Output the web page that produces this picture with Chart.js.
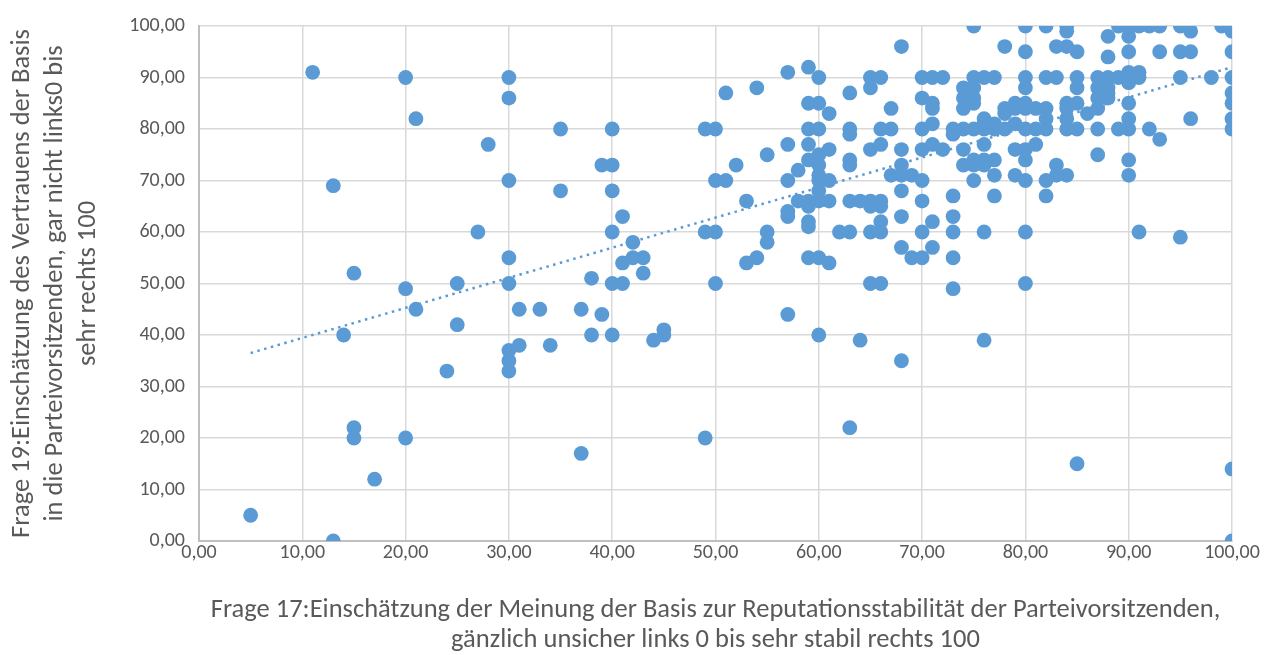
<!DOCTYPE html>
<html>
<head>
<meta charset="utf-8">
<script src="https://cdn.jsdelivr.net/npm/chart.js@4.4.1/dist/chart.umd.min.js"></script>
<style>
html, body { margin: 0; padding: 0; background: #ffffff; }
#wrap { width: 1283px; height: 655px; }
</style>
</head>
<body>
<div id="wrap"><canvas id="chart" width="1283" height="655"></canvas></div>
<script>
// Frage 17 (x) values
const frage17 = [
  5,11,13,13,14,15,15,15,17,20,20,20,21,21,24,25,25,27,28,
  30,30,30,30,30,30,30,30,31,31,33,34,35,35,37,37,38,38,39,39,
  40,40,40,40,40,40,41,41,41,42,42,43,43,44,45,45,49,49,49,
  50,50,50,50,51,51,52,53,53,54,54,55,55,55,57,57,57,57,57,57,
  58,58,59,59,59,59,59,59,59,59,59,59,
  60,60,60,60,60,60,60,60,60,60,60,
  61,61,61,61,61,62,63,63,63,63,63,63,63,63,64,64,
  65,65,65,65,65,65,65,66,66,66,66,66,66,66,66,
  67,67,67,68,68,68,68,68,68,68,68,69,69,
  70,70,70,70,70,70,70,70,
  71,71,71,71,71,71,71,72,72,
  73,73,73,73,73,73,73,74,74,74,74,74,74,
  75,75,75,75,75,75,75,75,75,
  76,76,76,76,76,76,76,76,76,
  77,77,77,77,77,77,78,78,78,78,79,79,79,79,79,
  80,80,80,80,80,80,80,80,80,80,80,80,
  81,81,81,82,82,82,82,82,82,82,83,83,83,83,
  84,84,84,84,84,84,84,84,85,85,85,85,85,85,86,
  87,87,87,87,87,87,88,88,88,88,88,88,89,89,89,
  90,90,90,90,90,90,90,90,90,90,91,91,91,91,92,92,93,93,93,
  95,95,95,95,96,96,96,98,99,100,100,100,100,100,100,100,100,100,100
];
// Frage 19 (y) values
const frage19 = [
  5,91,69,0,40,52,22,20,12,90,49,20,82,45,33,50,42,60,77,
  90,86,70,55,50,37,35,33,45,38,45,38,80,68,45,17,51,40,73,44,
  80,73,68,60,50,40,63,54,50,58,55,55,52,39,41,40,80,60,20,
  80,70,60,50,87,70,73,66,54,88,55,75,60,58,91,77,70,64,63,44,
  72,66,92,85,80,77,74,66,65,62,61,55,
  90,85,80,75,73,71,70,68,66,55,40,
  83,76,70,66,54,60,87,80,79,74,73,66,60,22,66,39,
  90,88,76,66,65,60,50,90,80,77,66,65,62,60,50,
  84,80,71,96,76,73,71,68,63,57,35,71,55,
  90,86,80,76,70,66,60,55,
  90,85,84,81,77,62,57,90,76,
  80,79,67,63,60,55,49,88,86,84,80,76,73,
  100,90,88,86,85,80,74,73,70,
  90,82,81,80,77,74,73,60,39,
  90,81,80,74,71,67,96,84,83,80,85,84,81,76,71,
  100,95,90,88,85,84,80,76,74,70,60,50,
  84,80,77,100,90,84,82,80,70,67,96,90,73,71,
  100,99,96,85,84,82,80,71,95,90,88,85,80,15,83,
  90,88,86,84,80,75,98,94,90,88,87,86,100,90,80,
  100,98,95,91,89,85,82,80,74,71,100,91,90,60,100,80,100,95,78,
  100,95,90,59,99,95,82,90,100,100,99,95,90,87,85,82,80,14,0
];
// Linear trendline end points
const trendX = [5, 100];
const trendY = [36.5, 92];

const xTitle = [
  'Frage 17:Einschätzung der Meinung der Basis zur Reputationsstabilität der Parteivorsitzenden,',
  'gänzlich unsicher links 0 bis sehr stabil rechts 100'
];
const yTitle = [
  'Frage 19:Einschätzung des Vertrauens der Basis',
  'in die Parteivorsitzenden, gar nicht links0 bis',
  'sehr rechts 100'
];

const points = frage17.map((x, i) => ({ x: x, y: frage19[i] }));
const trend = trendX.map((x, i) => ({ x: x, y: trendY[i] }));

const BLUE = '#5b9bd5';
const TEXT = '#595959';
const FONT = "Carlito, 'Open Sans', Lato, sans-serif";
const TICK_SIZE = 20;
const TITLE_SIZE = 26.5;
const fmt = v => Number(v).toFixed(2).replace('.', ',');

new Chart(document.getElementById('chart'), {
  type: 'scatter',
  data: {
    datasets: [
      {
        label: 'Trend',
        data: trend,
        showLine: true,
        borderColor: BLUE,
        borderWidth: 2.5,
        borderDash: [2.5, 4.5],
        pointRadius: 0,
        fill: false
      },
      {
        label: 'Frage 19',
        data: points,
        backgroundColor: BLUE,
        borderColor: BLUE,
        borderWidth: 0,
        pointRadius: 7.4,
        pointHoverRadius: 7.4
      }
    ]
  },
  options: {
    responsive: false,
    animation: false,
    layout: { padding: { top: 24, right: 51, left: 0, bottom: 0 } },
    plugins: { legend: { display: false }, tooltip: { enabled: false } },
    scales: {
      x: {
        type: 'linear',
        min: 0, max: 100,
        afterFit: s => { s.height = 114; },
        grid: { color: '#d9d9d9', lineWidth: 1.5, drawTicks: false },
        border: { color: '#bfbfbf', width: 2 },
        ticks: {
          stepSize: 10, padding: 0, color: TEXT,
          font: { family: FONT, size: TICK_SIZE },
          callback: v => fmt(v)
        },
        title: {
          display: true, text: xTitle, color: TEXT,
          font: { family: FONT, size: TITLE_SIZE, lineHeight: 30 / TITLE_SIZE },
          padding: { top: 0, bottom: 0 }
        }
      },
      y: {
        type: 'linear',
        min: 0, max: 100,
        afterFit: s => { s.width = 199; },
        grid: { color: '#d9d9d9', lineWidth: 1.5, drawTicks: false },
        border: { color: '#bfbfbf', width: 2 },
        ticks: {
          stepSize: 10, padding: 14, color: TEXT,
          font: { family: FONT, size: TICK_SIZE },
          callback: v => fmt(v)
        },
        title: {
          display: true, text: yTitle, color: TEXT,
          font: { family: FONT, size: TITLE_SIZE, lineHeight: 33 / TITLE_SIZE },
          padding: { top: 5.5, bottom: 0 }
        }
      }
    }
  }
});
</script>
</body>
</html>
